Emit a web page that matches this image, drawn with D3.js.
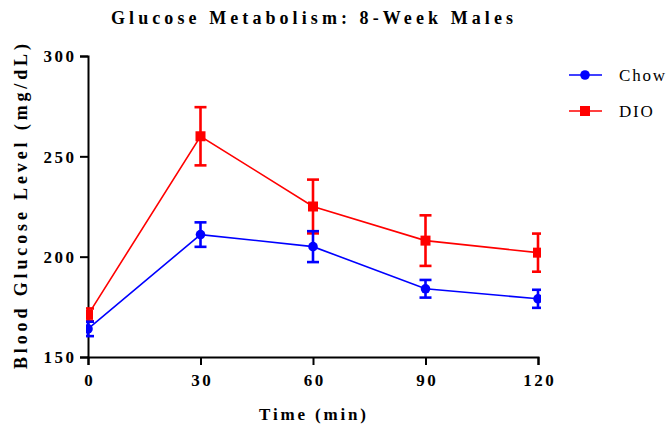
<!DOCTYPE html>
<html>
<head>
<meta charset="utf-8">
<script src="https://cdn.jsdelivr.net/npm/d3@7"></script>
<style>
  html, body { margin: 0; padding: 0; background: #fff; }
  svg { display: block; }
  text { font-family: "Liberation Serif", "Times New Roman", serif; fill: #000; }
</style>
</head>
<body>
<svg id="chart" width="670" height="426"></svg>
<script>
// Glucose tolerance test, 8-week males
const times = [0, 30, 60, 90, 120];
const chowMean = [164, 211, 205, 184, 179];
const chowSem  = [3.6, 6.1, 7.7, 4.4, 4.5];
const dioMean  = [171, 260, 225, 208, 202];
const dioSem   = [3.2, 14.5, 13.4, 12.6, 9.5];
const xTicks = [0, 30, 60, 90, 120];
const yTicks = [150, 200, 250, 300];
const seriesNames = ["Chow", "DIO"];
const seriesColors = ["#0000ff", "#ff0000"];

const svg = d3.select("#chart");
const x = d3.scaleLinear().domain([0, 120]).range([88, 538]);
const y = d3.scaleLinear().domain([150, 300]).range([357, 56]);

// Title
svg.append("text")
  .attr("x", 111).attr("y", 24)
  .attr("font-size", 18).attr("font-weight", "bold")
  .attr("textLength", 402).attr("lengthAdjust", "spacing")
  .text("Glucose Metabolism: 8-Week Males");

// Axes
const yAxis = svg.append("g")
  .attr("transform", `translate(${x(0)},0)`)
  .call(d3.axisLeft(y).tickValues(yTicks).tickSize(8).tickPadding(6));
const xAxis = svg.append("g")
  .attr("transform", `translate(0,${y(150)})`)
  .call(d3.axisBottom(x).tickValues(xTicks).tickSize(8).tickPadding(9));

[yAxis, xAxis].forEach(g => {
  g.selectAll("path, line").attr("stroke", "#000").attr("stroke-width", 2);
  g.selectAll("text")
    .attr("font-family", "Liberation Serif, Times New Roman, serif")
    .attr("font-size", 17).attr("font-weight", "bold")
    .attr("fill", "#000").attr("letter-spacing", 2.5);
});
yAxis.selectAll("text").attr("dx", 2.5).attr("dy", "0.34em");
xAxis.selectAll("text").attr("dx", 1.25);

// Axis titles
svg.append("text")
  .attr("x", 259).attr("y", 420)
  .attr("font-size", 17).attr("font-weight", "bold")
  .attr("textLength", 107).attr("lengthAdjust", "spacing")
  .text("Time (min)");
svg.append("text")
  .attr("transform", "translate(27,369) rotate(-90)")
  .attr("font-size", 18).attr("font-weight", "bold")
  .attr("textLength", 325).attr("lengthAdjust", "spacing")
  .text("Blood Glucose Level (mg/dL)");

// Plot area clip
svg.append("clipPath").attr("id", "plotClip")
  .append("rect").attr("x", 86).attr("y", 0).attr("width", 455).attr("height", 426);

const plot = svg.append("g").attr("clip-path", "url(#plotClip)");

const series = [
  { name: seriesNames[1], color: seriesColors[1], mean: dioMean, sem: dioSem, shape: "square" },
  { name: seriesNames[0], color: seriesColors[0], mean: chowMean, sem: chowSem, shape: "circle" }
];

const line = d3.line().x(d => x(d.t)).y(d => y(d.m));
const capHalf = 6;

series.forEach(s => {
  const pts = times.map((t, i) => ({ t, m: s.mean[i], e: s.sem[i] }));
  const g = plot.append("g");
  g.append("path").datum(pts)
    .attr("d", line).attr("fill", "none")
    .attr("stroke", s.color).attr("stroke-width", 1.6);

  const eb = g.selectAll(".eb").data(pts).enter().append("g").attr("class", "eb");
  eb.append("line")
    .attr("x1", d => x(d.t)).attr("x2", d => x(d.t))
    .attr("y1", d => y(d.m + d.e)).attr("y2", d => y(d.m - d.e))
    .attr("stroke", s.color).attr("stroke-width", 2.6);
  [1, -1].forEach(sign => {
    eb.append("line")
      .attr("x1", d => x(d.t) - capHalf).attr("x2", d => x(d.t) + capHalf)
      .attr("y1", d => y(d.m + sign * d.e)).attr("y2", d => y(d.m + sign * d.e))
      .attr("stroke", s.color).attr("stroke-width", 2.6);
  });

  if (s.shape === "circle") {
    g.selectAll(".mk").data(pts).enter().append("circle")
      .attr("cx", d => x(d.t)).attr("cy", d => y(d.m)).attr("r", 4.8)
      .attr("fill", s.color);
  } else {
    g.selectAll(".mk").data(pts).enter().append("rect")
      .attr("x", d => x(d.t) - 5).attr("y", d => y(d.m) - 5)
      .attr("width", 10).attr("height", 10)
      .attr("fill", s.color);
  }
});

// Legend
const legendRows = [
  { name: seriesNames[0], color: seriesColors[0], shape: "circle", y: 75 },
  { name: seriesNames[1], color: seriesColors[1], shape: "square", y: 111 }
];
legendRows.forEach(r => {
  const g = svg.append("g");
  g.append("line").attr("x1", 569).attr("x2", 602).attr("y1", r.y).attr("y2", r.y)
    .attr("stroke", r.color).attr("stroke-width", 1.6);
  if (r.shape === "circle") {
    g.append("circle").attr("cx", 585).attr("cy", r.y).attr("r", 4.8).attr("fill", r.color);
  } else {
    g.append("rect").attr("x", 580).attr("y", r.y - 5).attr("width", 10).attr("height", 10).attr("fill", r.color);
  }
  g.append("text").attr("x", 619).attr("y", r.y + 6)
    .attr("font-size", 17).attr("letter-spacing", 1.8)
    .text(r.name);
});
</script>
</body>
</html>
